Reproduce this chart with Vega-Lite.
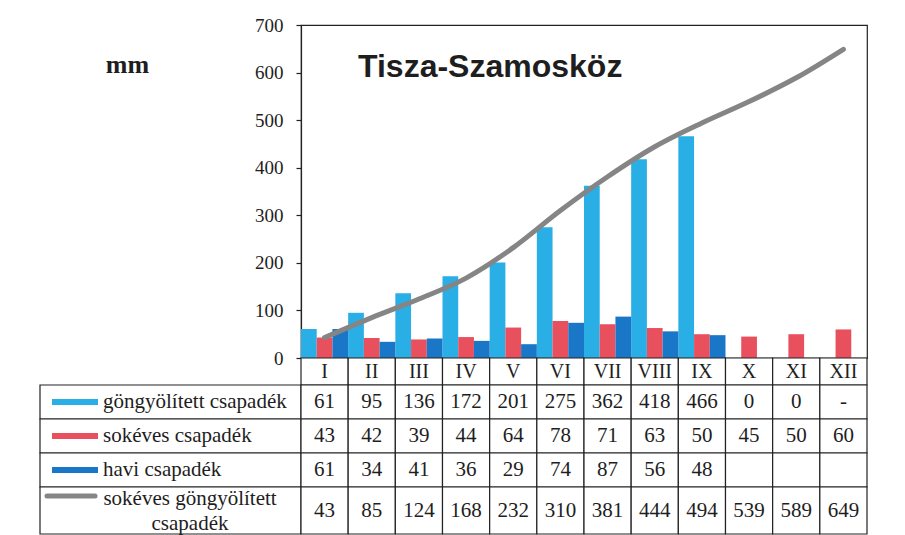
{
  "$schema": "https://vega.github.io/schema/vega-lite/v6.json",
  "background": "white",
  "padding": {"left": 37, "top": 15, "right": 5, "bottom": 0},
  "config": {"view": {"stroke": null}, "font": "Liberation Serif"},
  "datasets": {
    "csapadek": [
      {"month": "I", "series": "göngyölített csapadék", "value": 61, "label": "61"},
      {"month": "II", "series": "göngyölített csapadék", "value": 95, "label": "95"},
      {"month": "III", "series": "göngyölített csapadék", "value": 136, "label": "136"},
      {"month": "IV", "series": "göngyölített csapadék", "value": 172, "label": "172"},
      {"month": "V", "series": "göngyölített csapadék", "value": 201, "label": "201"},
      {"month": "VI", "series": "göngyölített csapadék", "value": 275, "label": "275"},
      {"month": "VII", "series": "göngyölített csapadék", "value": 362, "label": "362"},
      {"month": "VIII", "series": "göngyölített csapadék", "value": 418, "label": "418"},
      {"month": "IX", "series": "göngyölített csapadék", "value": 466, "label": "466"},
      {"month": "X", "series": "göngyölített csapadék", "value": 0, "label": "0"},
      {"month": "XI", "series": "göngyölített csapadék", "value": 0, "label": "0"},
      {"month": "XII", "series": "göngyölített csapadék", "value": null, "label": "-"},
      {"month": "I", "series": "sokéves csapadék", "value": 43, "label": "43"},
      {"month": "II", "series": "sokéves csapadék", "value": 42, "label": "42"},
      {"month": "III", "series": "sokéves csapadék", "value": 39, "label": "39"},
      {"month": "IV", "series": "sokéves csapadék", "value": 44, "label": "44"},
      {"month": "V", "series": "sokéves csapadék", "value": 64, "label": "64"},
      {"month": "VI", "series": "sokéves csapadék", "value": 78, "label": "78"},
      {"month": "VII", "series": "sokéves csapadék", "value": 71, "label": "71"},
      {"month": "VIII", "series": "sokéves csapadék", "value": 63, "label": "63"},
      {"month": "IX", "series": "sokéves csapadék", "value": 50, "label": "50"},
      {"month": "X", "series": "sokéves csapadék", "value": 45, "label": "45"},
      {"month": "XI", "series": "sokéves csapadék", "value": 50, "label": "50"},
      {"month": "XII", "series": "sokéves csapadék", "value": 60, "label": "60"},
      {"month": "I", "series": "havi csapadék", "value": 61, "label": "61"},
      {"month": "II", "series": "havi csapadék", "value": 34, "label": "34"},
      {"month": "III", "series": "havi csapadék", "value": 41, "label": "41"},
      {"month": "IV", "series": "havi csapadék", "value": 36, "label": "36"},
      {"month": "V", "series": "havi csapadék", "value": 29, "label": "29"},
      {"month": "VI", "series": "havi csapadék", "value": 74, "label": "74"},
      {"month": "VII", "series": "havi csapadék", "value": 87, "label": "87"},
      {"month": "VIII", "series": "havi csapadék", "value": 56, "label": "56"},
      {"month": "IX", "series": "havi csapadék", "value": 48, "label": "48"},
      {"month": "X", "series": "havi csapadék", "value": null, "label": ""},
      {"month": "XI", "series": "havi csapadék", "value": null, "label": ""},
      {"month": "XII", "series": "havi csapadék", "value": null, "label": ""},
      {"month": "I", "series": "sokéves göngyölített\ncsapadék", "value": 43, "label": "43"},
      {"month": "II", "series": "sokéves göngyölített\ncsapadék", "value": 85, "label": "85"},
      {"month": "III", "series": "sokéves göngyölített\ncsapadék", "value": 124, "label": "124"},
      {"month": "IV", "series": "sokéves göngyölített\ncsapadék", "value": 168, "label": "168"},
      {"month": "V", "series": "sokéves göngyölített\ncsapadék", "value": 232, "label": "232"},
      {"month": "VI", "series": "sokéves göngyölített\ncsapadék", "value": 310, "label": "310"},
      {"month": "VII", "series": "sokéves göngyölített\ncsapadék", "value": 381, "label": "381"},
      {"month": "VIII", "series": "sokéves göngyölített\ncsapadék", "value": 444, "label": "444"},
      {"month": "IX", "series": "sokéves göngyölített\ncsapadék", "value": 494, "label": "494"},
      {"month": "X", "series": "sokéves göngyölített\ncsapadék", "value": 539, "label": "539"},
      {"month": "XI", "series": "sokéves göngyölített\ncsapadék", "value": 589, "label": "589"},
      {"month": "XII", "series": "sokéves göngyölített\ncsapadék", "value": 649, "label": "649"}
    ]
  },
  "columns": 2,
  "spacing": 0,
  "bounds": "flush",
  "align": "each",
  "concat": [
    {
      "width": 261, "height": 333,
      "data": {"values": [{"blank": 1}]},
      "mark": {"type": "text", "text": ""},
      "encoding": {}
    },
    {
      "width": 566, "height": 333,
      "view": {"stroke": "#222", "strokeWidth": 1.2},
      "title": {"text": "Tisza-Szamosköz", "font": "Liberation Sans", "fontSize": 32, "fontWeight": "bold", "color": "#1e1e1e", "anchor": "start", "frame": "group", "offset": 0, "dx": 57, "dy": 93, "baseline": "alphabetic"},
      "data": {"name": "csapadek"},
      "encoding": {
        "x": {"field": "month", "type": "nominal", "scale": {"domain": ["I","II","III","IV","V","VI","VII","VIII","IX","X","XI","XII"], "paddingInner": 0, "paddingOuter": 0}, "axis": null},
        "y": {"field": "value", "type": "quantitative", "scale": {"domain": [0, 700], "nice": false},
          "axis": {"values": [0,100,200,300,400,500,600,700], "title": "mm", "titleAngle": 0, "titleFont": "Liberation Serif", "titleFontSize": 26, "titleFontWeight": "bold", "titleColor": "#1e1e1e", "titleX": -174, "titleY": 47, "titleAlign": "center", "titleBaseline": "alphabetic", "tickSize": 5, "tickColor": "#222", "tickWidth": 1.2, "domainColor": "#222", "domainWidth": 1.2, "labelFont": "Liberation Serif", "labelFontSize": 19, "labelColor": "#1e1e1e", "labelPadding": 13, "grid": false}}
      },
      "layer": [
        {
          "transform": [{"filter": {"field": "series", "oneOf": ["göngyölített csapadék", "sokéves csapadék", "havi csapadék"]}}, {"filter": "isValid(datum.value)"}],
          "mark": {"type": "bar"},
          "encoding": {
            "xOffset": {"field": "series", "type": "nominal", "scale": {"domain": ["göngyölített csapadék", "sokéves csapadék", "havi csapadék"], "paddingInner": 0, "paddingOuter": 0}},
            "color": {"field": "series", "type": "nominal", "scale": {"domain": ["göngyölített csapadék", "sokéves csapadék", "havi csapadék"], "range": ["#2aaee6", "#e8505e", "#1a76c6"]}, "legend": null}
          }
        },
        {
          "transform": [{"filter": {"field": "series", "equal": "sokéves göngyölített\ncsapadék"}}],
          "mark": {"type": "line", "interpolate": "monotone", "strokeWidth": 5, "strokeCap": "round", "color": "#858585"},
          "encoding": {}
        }
      ]
    },
    {
      "width": 261, "height": 27,
      "data": {"values": [{"blank": 1}]},
      "mark": {"type": "text", "text": ""},
      "encoding": {}
    },
    {
      "width": 566, "height": 27,
      "data": {"name": "csapadek"},
      "transform": [{"filter": {"field": "series", "equal": "sokéves csapadék"}}],
      "encoding": {
        "x": {"field": "month", "type": "nominal", "scale": {"domain": ["I","II","III","IV","V","VI","VII","VIII","IX","X","XI","XII"], "paddingInner": 0, "paddingOuter": 0}, "axis": null}
      },
      "layer": [
        {"mark": {"type": "rect", "fill": "white", "stroke": "#222", "strokeWidth": 1.2}, "encoding": {}},
        {"mark": {"type": "text", "fontSize": 20, "font": "Liberation Serif", "color": "#1e1e1e"}, "encoding": {"text": {"field": "month"}}}
      ]
    },
    {
      "width": 261, "height": 102,
      "data": {"name": "csapadek"},
      "transform": [{"filter": {"field": "month", "equal": "I"}}, {"filter": {"field": "series", "oneOf": ["göngyölített csapadék", "sokéves csapadék", "havi csapadék"]}}],
      "encoding": {
        "y": {"field": "series", "type": "nominal", "scale": {"domain": ["göngyölített csapadék", "sokéves csapadék", "havi csapadék"], "paddingInner": 0, "paddingOuter": 0}, "axis": null}
      },
      "layer": [
        {"mark": {"type": "rect", "fill": "white", "stroke": "#222", "strokeWidth": 1.2}, "encoding": {}},
        {
          "mark": {"type": "point", "filled": true, "opacity": 1, "shape": "M-1,-0.13H1V0.13H-1Z", "size": 2116},
          "encoding": {
            "x": {"datum": "swatch", "type": "nominal", "scale": {"type": "point", "domain": ["swatch", "label"], "range": [35, 63], "padding": 0}, "axis": null},
            "color": {"field": "series", "type": "nominal", "scale": {"domain": ["göngyölített csapadék", "sokéves csapadék", "havi csapadék"], "range": ["#2aaee6", "#e8505e", "#1a76c6"]}, "legend": null}
          }
        },
        {
          "mark": {"type": "text", "align": "left", "fontSize": 21, "font": "Liberation Serif", "color": "#1e1e1e"},
          "encoding": {"x": {"datum": "label", "type": "nominal"}, "text": {"field": "series"}}
        }
      ]
    },
    {
      "width": 566, "height": 102,
      "data": {"name": "csapadek"},
      "transform": [{"filter": {"field": "series", "oneOf": ["göngyölített csapadék", "sokéves csapadék", "havi csapadék"]}}],
      "encoding": {
        "x": {"field": "month", "type": "nominal", "scale": {"domain": ["I","II","III","IV","V","VI","VII","VIII","IX","X","XI","XII"], "paddingInner": 0, "paddingOuter": 0}, "axis": null},
        "y": {"field": "series", "type": "nominal", "scale": {"domain": ["göngyölített csapadék", "sokéves csapadék", "havi csapadék"], "paddingInner": 0, "paddingOuter": 0}, "axis": null}
      },
      "layer": [
        {"mark": {"type": "rect", "fill": "white", "stroke": "#222", "strokeWidth": 1.2}, "encoding": {}},
        {"mark": {"type": "text", "fontSize": 21, "font": "Liberation Serif", "color": "#1e1e1e"}, "encoding": {"text": {"field": "label"}}}
      ]
    },
    {
      "width": 261, "height": 47,
      "data": {"name": "csapadek"},
      "transform": [{"filter": {"field": "month", "equal": "I"}}, {"filter": {"field": "series", "equal": "sokéves göngyölített\ncsapadék"}}],
      "layer": [
        {"mark": {"type": "rect", "fill": "white", "stroke": "#222", "strokeWidth": 1.2}, "encoding": {}},
        {
          "mark": {"type": "point", "filled": false, "opacity": 1, "shape": "M-1,-0.6H1", "size": 2304, "strokeWidth": 5, "strokeCap": "round", "color": "#858585"},
          "encoding": {
            "x": {"datum": "swatch", "type": "nominal", "scale": {"type": "point", "domain": ["swatch", "label"], "range": [31, 150], "padding": 0}, "axis": null}
          }
        },
        {
          "mark": {"type": "text", "align": "center", "fontSize": 21, "font": "Liberation Serif", "color": "#1e1e1e", "lineBreak": "\n", "lineHeight": 25, "dy": -12},
          "encoding": {"x": {"datum": "label", "type": "nominal"}, "text": {"field": "series"}}
        }
      ]
    },
    {
      "width": 566, "height": 47,
      "data": {"name": "csapadek"},
      "transform": [{"filter": {"field": "series", "equal": "sokéves göngyölített\ncsapadék"}}],
      "encoding": {
        "x": {"field": "month", "type": "nominal", "scale": {"domain": ["I","II","III","IV","V","VI","VII","VIII","IX","X","XI","XII"], "paddingInner": 0, "paddingOuter": 0}, "axis": null}
      },
      "layer": [
        {"mark": {"type": "rect", "fill": "white", "stroke": "#222", "strokeWidth": 1.2}, "encoding": {}},
        {"mark": {"type": "text", "fontSize": 21, "font": "Liberation Serif", "color": "#1e1e1e"}, "encoding": {"text": {"field": "label"}}}
      ]
    }
  ]
}
